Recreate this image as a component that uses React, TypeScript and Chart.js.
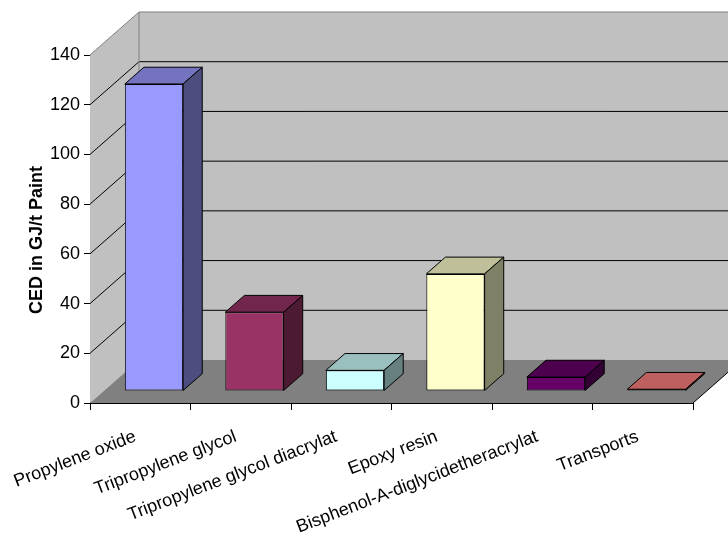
import React, { useEffect, useRef } from "react";
import { Chart, registerables } from "chart.js";

Chart.register(...registerables);

const categories = [
  "Propylene oxide",
  "Tripropylene glycol",
  "Tripropylene glycol diacrylat",
  "Epoxy resin",
  "Bisphenol-A-diglycidetheracrylat",
  "Transports",
];
const cedValues = [123.5, 31.7, 8.3, 47.1, 5.6, 0.7];
const yTickValues = [0, 20, 40, 60, 80, 100, 120, 140];
const yTitle = "CED in GJ/t Paint";
const frontColors = ["#9999FF", "#993366", "#CCFFFF", "#FFFFCC", "#660066", "#FF8080"];

const FONT = "'Liberation Sans', Arial, sans-serif";
const DX = 49;
const DY = 43;
const BAR_OFF = 0.28;
const BAR_DEPTH = 0.39;

function shade(hex: string, f: number) {
  const n = parseInt(hex.slice(1), 16);
  const r = Math.round(((n >> 16) & 255) * f);
  const g = Math.round(((n >> 8) & 255) * f);
  const b = Math.round((n & 255) * f);
  return `rgb(${r},${g},${b})`;
}

function poly(ctx: CanvasRenderingContext2D, pts: number[][]) {
  ctx.beginPath();
  ctx.moveTo(pts[0][0], pts[0][1]);
  for (let i = 1; i < pts.length; i++) ctx.lineTo(pts[i][0], pts[i][1]);
  ctx.closePath();
}

const threeD = {
  id: "threeD",
  beforeDatasetsDraw(chart: any) {
    const { ctx, chartArea: a, scales } = chart;
    const y = scales.y;
    ctx.save();
    // side wall
    ctx.fillStyle = "#C0C0C0";
    poly(ctx, [[a.left, a.bottom], [a.left, a.top], [a.left + DX, a.top - DY], [a.left + DX, a.bottom - DY]]);
    ctx.fill();
    // back wall
    poly(ctx, [[a.left + DX, a.top - DY], [a.right + DX, a.top - DY], [a.right + DX, a.bottom - DY], [a.left + DX, a.bottom - DY]]);
    ctx.fill();
    // floor
    ctx.fillStyle = "#808080";
    poly(ctx, [[a.left, a.bottom], [a.right, a.bottom], [a.right + DX, a.bottom - DY], [a.left + DX, a.bottom - DY]]);
    ctx.fill();

    // gridlines
    ctx.lineWidth = 1;
    ctx.strokeStyle = "#000";
    const maxV = yTickValues[yTickValues.length - 1];
    for (const v of yTickValues) {
      if (v === 0 || v === maxV) continue;
      const py = y.getPixelForValue(v);
      ctx.beginPath();
      ctx.moveTo(a.left, py);
      ctx.lineTo(a.left + DX, py - DY);
      ctx.lineTo(a.right + DX, py - DY);
      ctx.stroke();
    }
    // wall edges (grey)
    ctx.strokeStyle = "#808080";
    ctx.beginPath();
    ctx.moveTo(a.left, a.top);
    ctx.lineTo(a.left + DX, a.top - DY);
    ctx.lineTo(a.right + DX, a.top - DY);
    ctx.moveTo(a.left + DX, a.top - DY);
    ctx.lineTo(a.left + DX, a.bottom - DY);
    ctx.stroke();
    // floor right edge
    ctx.strokeStyle = "#000";
    ctx.beginPath();
    ctx.moveTo(a.right, a.bottom);
    ctx.lineTo(a.right + DX, a.bottom - DY);
    ctx.stroke();

    // bar tops and sides
    const ox = BAR_OFF * DX;
    const oy = -BAR_OFF * DY;
    const bx = BAR_DEPTH * DX;
    const by = BAR_DEPTH * DY;
    const meta = chart.getDatasetMeta(0);
    const colors = chart.data.datasets[0].backgroundColor as string[];
    meta.data.forEach((el: any, i: number) => {
      const p = el.getProps(["x", "y", "base", "width"], true);
      const L = p.x - p.width / 2 + ox;
      const R = p.x + p.width / 2 + ox;
      const T = Math.min(p.y, p.base) + oy;
      const B = Math.max(p.y, p.base) + oy;
      ctx.lineJoin = "round";
      ctx.strokeStyle = "#000";
      ctx.fillStyle = shade(colors[i], 0.75);
      poly(ctx, [[L, T], [R, T], [R + bx, T - by], [L + bx, T - by]]);
      ctx.fill();
      ctx.stroke();
      ctx.fillStyle = shade(colors[i], 0.5);
      poly(ctx, [[R, T], [R + bx, T - by], [R + bx, B - by], [R, B]]);
      ctx.fill();
      ctx.stroke();
    });
    ctx.restore();

    ctx.save();
    ctx.translate(ox, oy);
  },
  afterDatasetsDraw(chart: any) {
    chart.ctx.restore();
  },
  afterDraw(chart: any) {
    const { ctx, chartArea: a } = chart;
    ctx.save();
    ctx.font = `bold 18px ${FONT}`;
    ctx.fillStyle = "#000";
    ctx.textAlign = "center";
    ctx.textBaseline = "alphabetic";
    ctx.translate(42, (a.top + a.bottom) / 2 + 11);
    ctx.rotate(-Math.PI / 2);
    ctx.fillText(yTitle, 0, 0);
    ctx.restore();
  },
};

export default function App() {
  const ref = useRef<HTMLCanvasElement>(null);
  useEffect(() => {
    if (!ref.current) return;
    Chart.defaults.font.family = FONT;
    const chart = new Chart(ref.current, {
      type: "bar",
      data: {
        labels: categories,
        datasets: [
          {
            data: cedValues,
            backgroundColor: frontColors,
            borderColor: "#000",
            borderWidth: 1,
            borderSkipped: false,
            barPercentage: 0.58,
            categoryPercentage: 1,
          },
        ],
      },
      options: {
        animation: false,
        responsive: false,
        devicePixelRatio: 1,
        layout: { padding: { left: 0, top: 55, right: 35, bottom: 0 } },
        plugins: { legend: { display: false }, tooltip: { enabled: false } },
        scales: {
          x: {
            grid: { drawOnChartArea: false, drawTicks: true, tickLength: 7, color: "#000", offset: true },
            border: { display: true, color: "#000", width: 1 },
            ticks: {
              autoSkip: false,
              minRotation: 21,
              maxRotation: 21,
              padding: 16,
              labelOffset: -5,
              color: "#000",
              font: { size: 18, family: FONT },
            },
            afterFit: (s: any) => {
              s.height = 138;
              s.paddingLeft = 0;
              s.paddingRight = 0;
            },
          },
          y: {
            min: yTickValues[0],
            max: yTickValues[yTickValues.length - 1],
            ticks: { stepSize: 20, color: "#000", padding: 4, font: { size: 18, family: FONT } },
            grid: { drawOnChartArea: false, drawTicks: true, tickLength: 6, color: "#000" },
            border: { display: true, color: "#000", width: 1 },
            afterFit: (s: any) => {
              s.width = 90;
              s.paddingTop = 0;
              s.paddingBottom = 0;
            },
          },
        },
      },
      plugins: [threeD],
    } as any);
    return () => chart.destroy();
  }, []);
  return (
    <div style={{ position: "fixed", left: 0, top: 0, width: 728, height: 541, background: "#fff" }}>
      <canvas ref={ref} width={728} height={541} />
    </div>
  );
}
